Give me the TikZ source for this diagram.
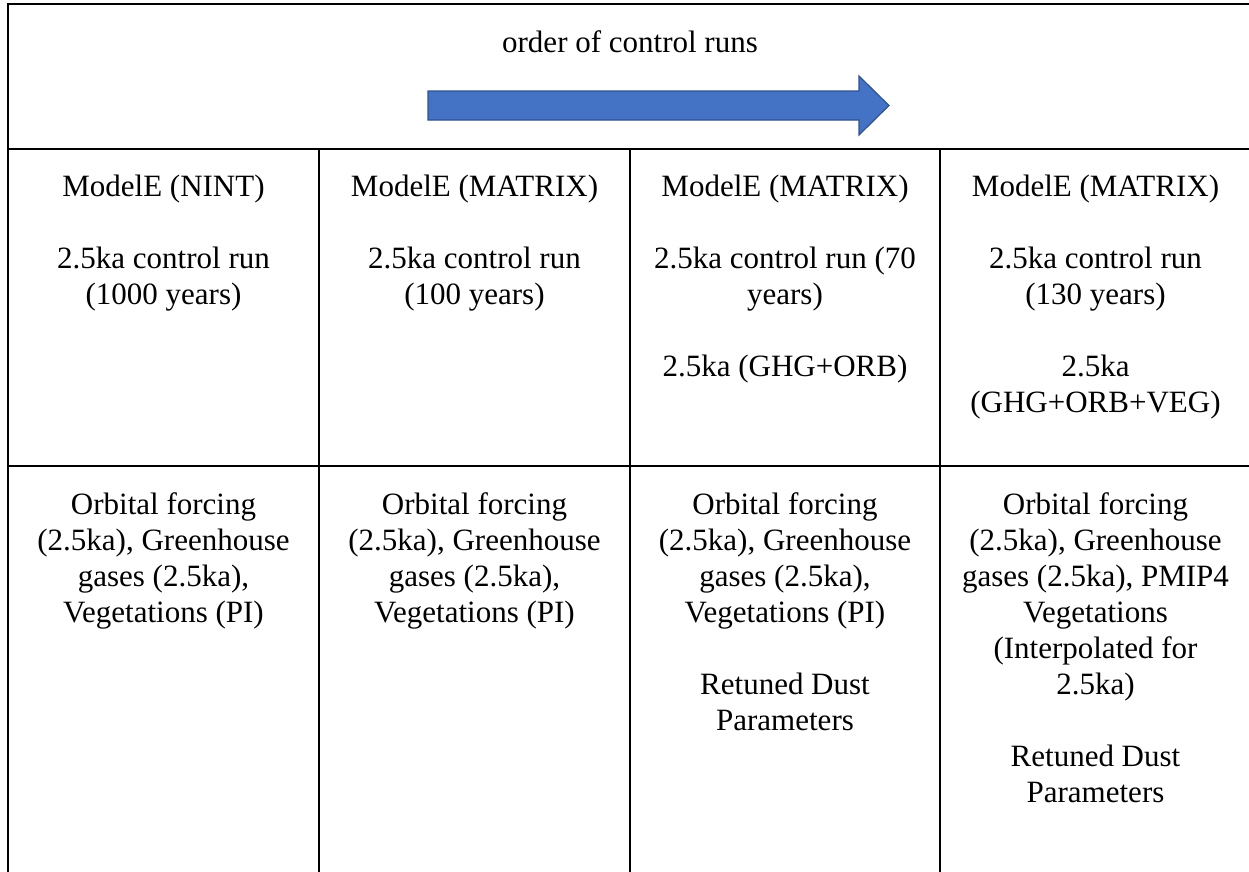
\documentclass[tikz,border=0pt]{standalone}
\usepackage{fontspec}
\setmainfont{Liberation Serif}
\definecolor{arrowblue}{HTML}{4472C4}
\definecolor{arrowedge}{HTML}{2F528F}
\tikzset{
  rule/.style={line width=1.5pt},
  celltext/.style={anchor=north,align=center,inner sep=0pt,font=\fontsize{31}{36}\selectfont},
}
\begin{document}
\begin{tikzpicture}[x=1pt,y=-1pt]
\useasboundingbox (0,0) rectangle (1249,871);
\pgfmathsetmacro{\rowtop}{175}
\pgfmathsetmacro{\rowbot}{492}
%
\draw[rule](1253,4)--(8,4)--(8,872);
\draw[rule](8,149)--(1253,149);
\draw[rule](8,466)--(1253,466);
\foreach \xc in {319,630,940}
  \draw[rule](\xc,149)--(\xc,872);
%
\node[celltext,anchor=base] (title) at (630,52) {order of control runs};
\draw[fill=arrowblue,draw=arrowedge,line width=1.2pt]
  (428,91)--(859,91)--(859,76)--(889,105.5)--(859,135)--(859,120)--(428,120)--cycle;
%
\node[celltext] (nint) at (163.5,\rowtop) {ModelE (NINT)\\[36pt]2.5ka control run\\(1000 years)};
\node[celltext] (matrixa) at (474.5,\rowtop) {ModelE (MATRIX)\\[36pt]2.5ka control run\\(100 years)};
\node[celltext] (matrixb) at (785,\rowtop) {ModelE (MATRIX)\\[36pt]2.5ka control run (70\\years)\\[36pt]2.5ka (GHG+ORB)};
\node[celltext] (matrixc) at (1095.5,\rowtop) {ModelE (MATRIX)\\[36pt]2.5ka control run\\(130 years)\\[36pt]2.5ka\\(GHG+ORB+VEG)};
%
\node[celltext] (forcea) at (163.5,\rowbot) {Orbital forcing\\(2.5ka), Greenhouse\\gases (2.5ka),\\Vegetations (PI)};
\node[celltext] (forceb) at (474.5,\rowbot) {Orbital forcing\\(2.5ka), Greenhouse\\gases (2.5ka),\\Vegetations (PI)};
\node[celltext] (forcec) at (785,\rowbot) {Orbital forcing\\(2.5ka), Greenhouse\\gases (2.5ka),\\Vegetations (PI)\\[36pt]Retuned Dust\\Parameters};
\node[celltext] (forced) at (1095.5,\rowbot) {Orbital forcing\\(2.5ka), Greenhouse\\gases (2.5ka), PMIP4\\Vegetations\\(Interpolated for\\2.5ka)\\[36pt]Retuned Dust\\Parameters};
\end{tikzpicture}
\end{document}
